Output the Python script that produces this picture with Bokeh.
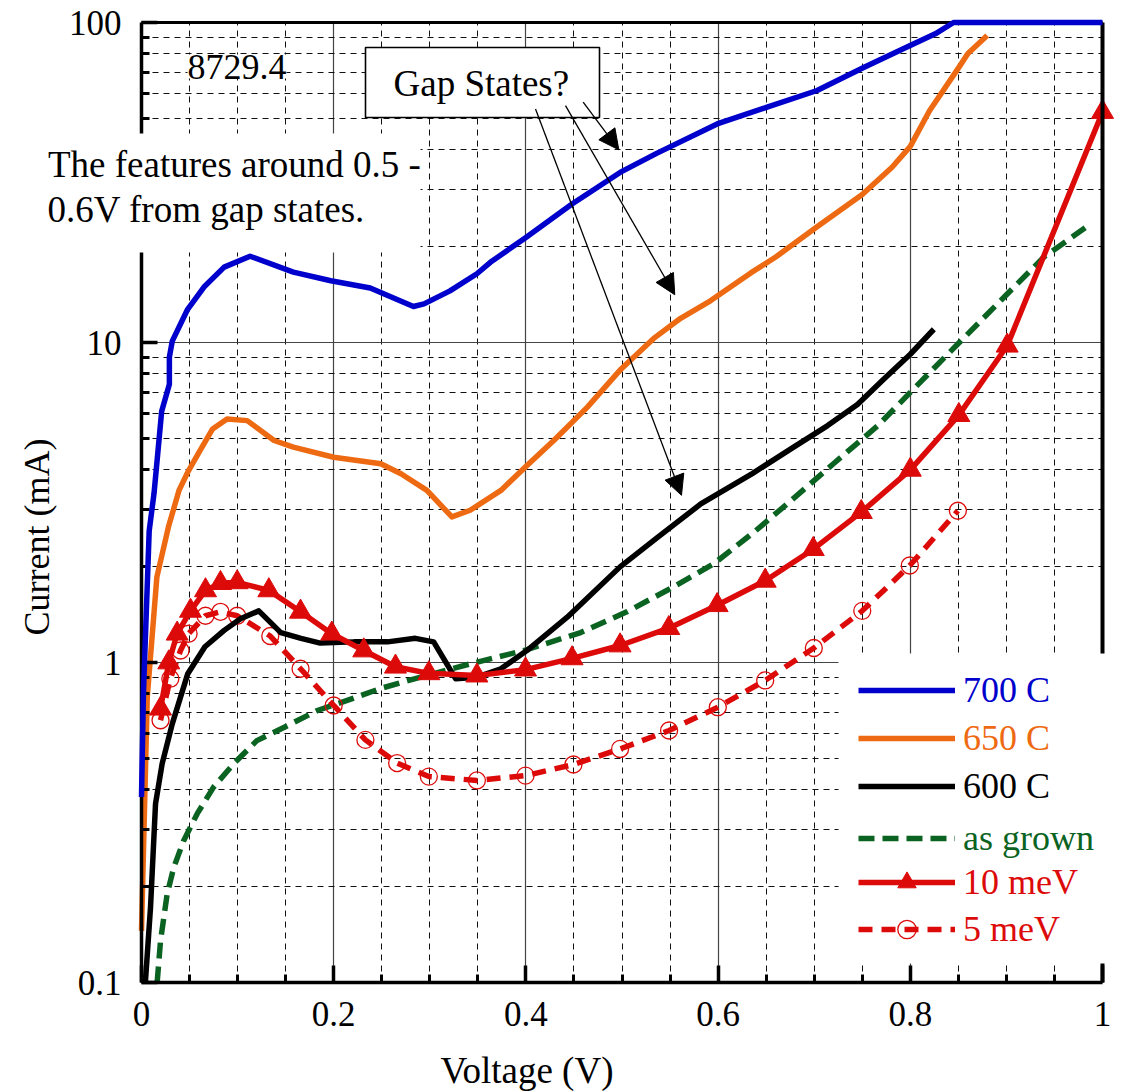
import math
from bokeh.plotting import figure
from bokeh.models import (FixedTicker, Label, BoxAnnotation, Arrow, NormalHead,
                          Legend, LegendItem, Range1d, LinearAxis, LogAxis, Grid)
from bokeh.embed import file_html
from bokeh.resources import INLINE

FONT = "Liberation Serif"

# ---------------- data (Voltage V, Current mA) ----------------
v700 = [0.0, 0.002, 0.008, 0.013, 0.021, 0.029, 0.029, 0.032, 0.048, 0.065, 0.086,
        0.113, 0.158, 0.197, 0.238, 0.283, 0.294, 0.321, 0.349, 0.363, 0.40, 0.448,
        0.498, 0.536, 0.599, 0.651, 0.703, 0.752, 0.796, 0.826, 0.845, 1.0]
i700 = [0.38, 0.80, 2.58, 3.37, 6.1, 7.4, 9.0, 10.1, 12.7, 14.9, 17.2,
        18.6, 16.6, 15.6, 14.8, 12.96, 13.2, 14.5, 16.4, 17.8, 21.3, 27.1,
        34.0, 39.0, 48.2, 54.4, 61.3, 72.5, 83.7, 92.2, 100.0, 100.0]

v650 = [0.0, 0.006, 0.016, 0.028, 0.039, 0.049, 0.061, 0.074, 0.089, 0.110, 0.138,
        0.158, 0.200, 0.249, 0.270, 0.297, 0.323, 0.342, 0.374, 0.40, 0.429, 0.464,
        0.498, 0.533, 0.561, 0.592, 0.634, 0.66, 0.703, 0.75, 0.781, 0.80, 0.82,
        0.85, 0.86, 0.88]
i650 = [0.145, 0.78, 1.85, 2.65, 3.45, 3.98, 4.6, 5.37, 5.77, 5.70, 4.94,
        4.71, 4.38, 4.18, 3.89, 3.45, 2.85, 2.99, 3.45, 4.1, 4.94, 6.28,
        8.2, 10.3, 11.9, 13.5, 16.5, 18.5, 23.0, 29.0, 35.3, 41.0, 53.0,
        72.0, 80.0, 91.0]

v600 = [0.004, 0.0094, 0.0146, 0.0215, 0.032, 0.048, 0.066, 0.086, 0.103, 0.122,
        0.145, 0.166, 0.186, 0.221, 0.256, 0.285, 0.304, 0.327, 0.349, 0.374,
        0.401, 0.443, 0.498, 0.537, 0.582, 0.636, 0.679, 0.714, 0.745, 0.772,
        0.80, 0.8245]
i600 = [0.1, 0.172, 0.362, 0.483, 0.643, 0.92, 1.12, 1.26, 1.37, 1.45,
        1.24, 1.19, 1.15, 1.16, 1.16, 1.19, 1.16, 0.889, 0.90, 0.956,
        1.09, 1.385, 1.99, 2.46, 3.13, 3.9, 4.72, 5.5, 6.4, 7.66,
        9.19, 11.0]

v_grown = [0.0163, 0.0198, 0.0267, 0.0336, 0.044, 0.058, 0.075, 0.096, 0.120,
           0.152, 0.183, 0.214, 0.249, 0.284, 0.342, 0.398, 0.457, 0.505, 0.55,
           0.595, 0.637, 0.675, 0.72, 0.766, 0.811, 0.852, 0.897, 0.939, 0.988]
i_grown = [0.1, 0.135, 0.189, 0.229, 0.278, 0.337, 0.408, 0.483, 0.57,
           0.635, 0.708, 0.761, 0.83, 0.889, 0.99, 1.09, 1.24, 1.44, 1.70,
           2.03, 2.55, 3.19, 4.18, 5.49, 7.55, 10.07, 13.8, 18.5, 23.5]

v10 = [0.0198, 0.0284, 0.0371, 0.051, 0.0666, 0.0822, 0.0996, 0.1325, 0.1655,
       0.198, 0.2313, 0.2643, 0.299, 0.349, 0.3996, 0.448, 0.498, 0.5487, 0.599,
       0.649, 0.699, 0.749, 0.80, 0.8505, 0.9008, 1.0]
i10 = [0.717, 1.0, 1.23, 1.45, 1.68, 1.77, 1.78, 1.68, 1.44,
       1.23, 1.09, 0.97, 0.925, 0.91, 0.95, 1.03, 1.13, 1.28, 1.51,
       1.80, 2.26, 2.95, 4.0, 5.93, 9.77, 52.5]

v5 = [0.0198, 0.030, 0.0406, 0.049, 0.0666, 0.0822, 0.0996, 0.134, 0.1655, 0.200,
      0.233, 0.266, 0.299, 0.349, 0.3996, 0.4495, 0.498, 0.549, 0.5997, 0.649,
      0.6996, 0.75, 0.7995, 0.8495]
i5 = [0.66, 0.89, 1.09, 1.23, 1.40, 1.44, 1.40, 1.21, 0.956, 0.734,
      0.573, 0.485, 0.44, 0.428, 0.443, 0.48, 0.537, 0.613, 0.725, 0.879,
      1.11, 1.45, 2.01, 2.98]

series_labels = ["700 C", "650 C", "600 C", "as grown", "10 meV", "5 meV"]

x_lim = (0, 1)
y_lim = (0.1, 100)
x_major = [0, 0.2, 0.4, 0.6, 0.8, 1]
x_minor = [0.05, 0.1, 0.15, 0.25, 0.3, 0.35, 0.45, 0.5, 0.55, 0.65, 0.7, 0.75,
           0.85, 0.9, 0.95]
x_tick_labels = ["0", "0.2", "0.4", "0.6", "0.8", "1"]
y_major = [0.1, 1, 10, 100]
y_minor = [0.2, 0.3, 0.4, 0.5, 0.6, 0.7, 0.8, 0.9, 2, 3, 4, 5, 6, 7, 8, 9,
           20, 30, 40, 50, 60, 70, 80, 90]
y_tick_labels = ["0.1", "1", "10", "100"]

BLUE = "#0000CC"
ORANGE = "#EE6A12"
BLACK = "#000000"
GREEN = "#0B6322"
RED = "#DD0A0A"
LW = 5.5

# ---------------- layout (canvas pixels) ----------------
W, H = 1121, 1091
PL, PR, PT, PB = 141, 1102, 22, 982          # plotting box edges
xspan = (x_lim[1] - x_lim[0]) / (PR - PL)    # data per pixel
lspan = (math.log10(y_lim[1]) - math.log10(y_lim[0])) / (PB - PT)
x_range = Range1d(x_lim[0] - PL * xspan, x_lim[1] + (W - PR) * xspan)
y_range = Range1d(10 ** (math.log10(y_lim[0]) - (H - PB) * lspan),
                  10 ** (math.log10(y_lim[1]) + PT * lspan))

p = figure(frame_width=W, frame_height=H, x_range=x_range, y_range=y_range,
           y_axis_type="log", output_backend="svg", toolbar_location=None,
           min_border=0, min_border_left=0, min_border_right=0,
           min_border_top=0, min_border_bottom=0)
p.background_fill_color = "white"
p.border_fill_color = "white"
p.outline_line_color = None

xt = FixedTicker(ticks=x_major, minor_ticks=x_minor)
yt = FixedTicker(ticks=y_major, minor_ticks=y_minor)

xax = p.xaxis[0]
yax = p.yaxis[0]
xax.ticker = xt
yax.ticker = yt
xax.fixed_location = y_lim[0]
yax.fixed_location = x_lim[0]
xax.bounds = x_lim
yax.bounds = y_lim
xax.major_label_overrides = dict(zip(x_major, x_tick_labels))
yax.major_label_overrides = dict(zip(y_major, y_tick_labels))

for ax in (xax, yax):
    ax.axis_line_width = 3.5
    ax.axis_line_color = "black"
    ax.major_tick_line_width = 3.5
    ax.minor_tick_line_width = 3
    ax.major_tick_line_color = "black"
    ax.minor_tick_line_color = "black"
    ax.major_tick_out = 0
    ax.minor_tick_out = 0
    ax.minor_tick_in = 8
    ax.major_label_text_font = FONT
    ax.major_label_text_font_size = "35px"
    ax.major_label_text_color = "black"
xax.major_tick_in = 17
yax.major_tick_in = 16
xax.major_label_standoff = 19
yax.major_label_standoff = 20

# frame borders on top and right (axes without ticks)
top_ax = LinearAxis(fixed_location=y_lim[1], bounds=x_lim,
                    ticker=FixedTicker(ticks=[]), axis_line_width=3,
                    major_tick_line_color=None, minor_tick_line_color=None)
right_ax = LogAxis(fixed_location=x_lim[1], bounds=y_lim,
                   ticker=FixedTicker(ticks=[]), axis_line_width=4,
                   major_tick_line_color=None, minor_tick_line_color=None)
p.add_layout(top_ax, "above")
p.add_layout(right_ax, "right")

# ---------------- grid ----------------
has_cross = "cross_bounds" in Grid.properties()
if has_cross:
    p.xgrid.ticker = xt
    p.ygrid.ticker = yt
    for g, b, cb in ((p.xgrid[0], x_lim, y_lim), (p.ygrid[0], y_lim, x_lim)):
        g.bounds = b
        g.cross_bounds = cb
        g.grid_line_color = "#444444"
        g.grid_line_width = 1.2
        g.minor_grid_line_color = "#111111"
        g.minor_grid_line_width = 1
        g.minor_grid_line_dash = "6 5"
else:
    p.xgrid.visible = False
    p.ygrid.visible = False
    p.segment(x0=x_minor, x1=x_minor, y0=[y_lim[0]] * len(x_minor),
              y1=[y_lim[1]] * len(x_minor), line_color="#111111", line_width=1,
              line_dash="6 5", level="underlay")
    p.segment(x0=[x_lim[0]] * len(y_minor), x1=[x_lim[1]] * len(y_minor),
              y0=y_minor, y1=y_minor, line_color="#111111", line_width=1,
              line_dash="6 5", level="underlay")
    p.segment(x0=x_major, x1=x_major, y0=[y_lim[0]] * len(x_major),
              y1=[y_lim[1]] * len(x_major), line_color="#444444", line_width=1.2,
              level="underlay")
    p.segment(x0=[x_lim[0]] * len(y_major), x1=[x_lim[1]] * len(y_major),
              y0=y_major, y1=y_major, line_color="#444444", line_width=1.2,
              level="underlay")

# ---------------- series ----------------
r_grown = p.line(v_grown, i_grown, line_color=GREEN, line_width=LW, line_dash="16 8")
r5l = p.line(v5, i5, line_color=RED, line_width=LW, line_dash="14 9")
r5m = p.scatter(v5, i5, marker="circle", size=17, fill_color=None, line_color=RED,
                line_width=1.3)
r600 = p.line(v600, i600, line_color=BLACK, line_width=LW, line_join="round")
r650 = p.line(v650, i650, line_color=ORANGE, line_width=LW, line_join="round")
r700 = p.line(v700, i700, line_color=BLUE, line_width=LW, line_join="round",
              level="annotation")
r10l = p.line(v10, i10, line_color=RED, line_width=LW, line_join="round")
r10m = p.scatter(v10, i10, marker="triangle", size=22, fill_color=RED, line_color=RED)


# ---------------- white boxes (canvas pixels, y down) ----------------
def cbox(left, right, top, bottom, **kw):
    return BoxAnnotation(left=left, right=right, bottom=bottom, top=top,
                         left_units="canvas", right_units="canvas",
                         bottom_units="canvas", top_units="canvas", **kw)

p.add_layout(cbox(838, 1121, 653, 963, fill_color="white", fill_alpha=1, line_alpha=0))
p.add_layout(cbox(0, 420, 133, 252, fill_color="white", fill_alpha=1, line_alpha=0))
p.add_layout(cbox(365, 599, 47, 117, fill_color="white", fill_alpha=1,
                  line_color="black", line_width=1.6, line_alpha=1))

# ---------------- legends ----------------
legend_rows = [
    (series_labels[0], BLUE, [r700], 690),
    (series_labels[1], ORANGE, [r650], 738),
    (series_labels[2], BLACK, [r600], 786),
    (series_labels[3], GREEN, [r_grown], 838),
    (series_labels[4], RED, [r10l, r10m], 882),
    (series_labels[5], RED, [r5l, r5m], 929),
]
GH = 46
for lab, col, rs, yc in legend_rows:
    lg = Legend(items=[LegendItem(label=lab, renderers=rs)],
                location=(858, H - yc - GH / 2),
                background_fill_alpha=0, border_line_alpha=0,
                label_text_color=col, label_text_font=FONT,
                label_text_font_size="36px", glyph_width=97, glyph_height=GH,
                label_height=GH, label_standoff=8, padding=0, margin=0, spacing=0)
    p.add_layout(lg)


# ---------------- texts (canvas pixels, y down) ----------------
def clabel(text, x, y, size="36px", **kw):
    return Label(text=text, x=x, y=y, x_units="canvas", y_units="canvas",
                 text_font=FONT, text_font_size=size, text_color="black",
                 text_baseline="alphabetic", **kw)

p.add_layout(clabel("8729.4", 187, 66, background_fill_color="white"))
p.add_layout(clabel("Gap States?", 393, 83, size="37px"))
p.add_layout(clabel("The features around 0.5 -", 47.5, 164, size="37px"))
p.add_layout(clabel("0.6V from gap states.", 47, 209, size="37px"))
p.add_layout(clabel("Voltage (V)", 440, 1070, size="37px"))
p.add_layout(clabel("Current (mA)", 36, 635, angle=math.pi / 2))

# ---------------- arrows ----------------
arrows = [
    (0.4596, 56.4, 0.4967, 40.0),
    (0.4412, 55.0, 0.5549, 14.1),
    (0.4100, 53.7, 0.5619, 3.33),
]
for xs, ys, xe, ye in arrows:
    p.add_layout(Arrow(end=NormalHead(size=20, fill_color="black", line_color="black",
                                      line_width=1),
                       x_start=xs, y_start=ys, x_end=xe, y_end=ye,
                       line_color="black", line_width=1.3))

open("out.html", "w").write(file_html(p, INLINE))
